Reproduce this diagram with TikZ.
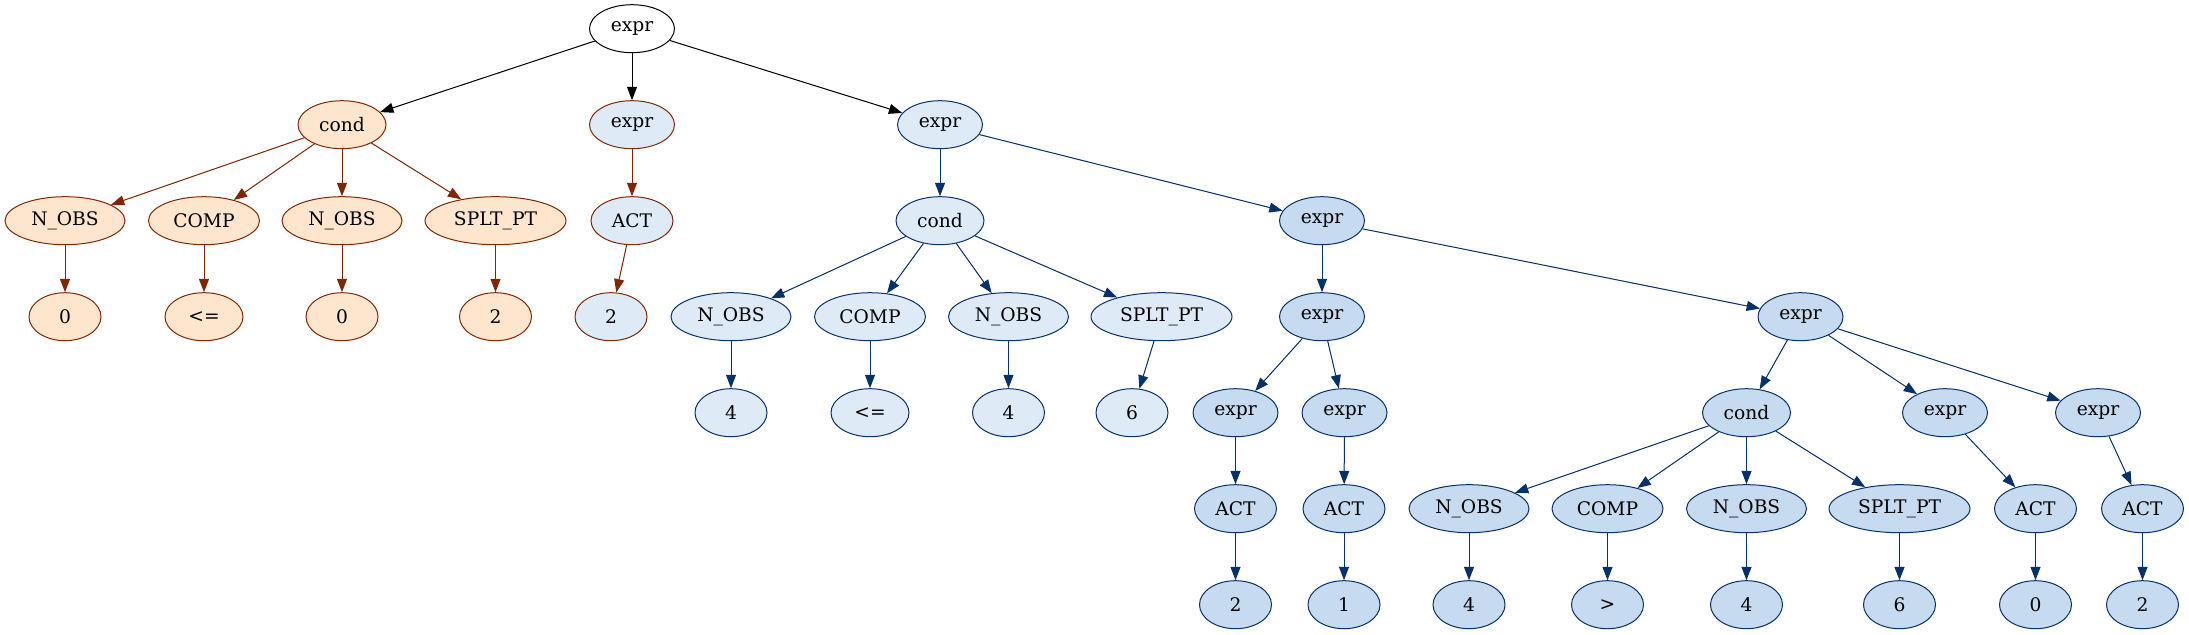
\documentclass[tikz,border=0pt]{standalone}
\usepackage{fontspec}
\setmainfont{DejaVu Serif}
\usetikzlibrary{arrows.meta}
\definecolor{ofill}{HTML}{FEE6CE}
\definecolor{oline}{HTML}{7F2704}
\definecolor{bfillA}{HTML}{DEEBF7}
\definecolor{bfillB}{HTML}{C6DBEF}
\definecolor{bline}{HTML}{08306B}
\tikzset{
  nd/.style={ellipse, inner sep=0pt, minimum height=36pt, line width=0.75pt, font=\fontsize{14pt}{16pt}\selectfont},
  w/.style={minimum width=#1*0.75pt},
  wk/.style={nd, draw=black, fill=white},
  ob/.style={nd, draw=oline, fill=ofill},
  lo/.style={nd, draw=oline, fill=bfillA},
  la/.style={nd, draw=bline, fill=bfillA},
  lm/.style={nd, draw=bline, fill=bfillB},
  ed/.style={line width=0.75pt, -{Triangle[length=10pt,width=7.5pt]}},
  ek/.style={ed, draw=black, fill=black},
  eo/.style={ed, draw=oline, fill=oline},
  eb/.style={ed, draw=bline, fill=bline},
}
\usetikzlibrary{shapes.geometric}
\begin{document}
\begin{tikzpicture}[x=0.75pt, y=-0.75pt]
\useasboundingbox (0,0) rectangle (2189,635);
% row ys: 28.7 124.7 220.7 316.7 412.7 508.7 604.7
\node[wk, w=85] (root) at (632,28.7) {expr};
% row 1
\node[ob, w=88] (c1) at (342,124.7) {cond};
\node[lo, w=85] (e1) at (632,124.7) {expr};
\node[la, w=85] (e2) at (940,124.7) {expr};
% row 2
\node[ob, w=120] (o1) at (65,220.7) {N\_OBS};
\node[ob, w=111] (o2) at (204,220.7) {COMP};
\node[ob, w=120] (o3) at (342,220.7) {N\_OBS};
\node[ob, w=141] (o4) at (495.5,220.7) {SPLT\_PT};
\node[lo, w=82] (a1) at (632,220.7) {ACT};
\node[la, w=88] (c2) at (940,220.7) {cond};
\node[lm, w=85] (e3) at (1322,220.7) {expr};
% row 3
\node[ob, w=72] (o1l) at (65,316.7) {0};
\node[ob, w=78] (o2l) at (204,316.7) {<=};
\node[ob, w=72] (o3l) at (342,316.7) {0};
\node[ob, w=72] (o4l) at (495.5,316.7) {2};
\node[lo, w=72] (a1l) at (611,316.7) {2};
\node[la, w=120] (b1) at (731,316.7) {N\_OBS};
\node[la, w=111] (b2) at (870,316.7) {COMP};
\node[la, w=120] (b3) at (1008.5,316.7) {N\_OBS};
\node[la, w=141] (b4) at (1161.5,316.7) {SPLT\_PT};
\node[lm, w=85] (e4) at (1322,316.7) {expr};
\node[lm, w=85] (e5) at (1800.5,316.7) {expr};
% row 4
\node[la, w=72] (b1l) at (731,412.7) {4};
\node[la, w=78] (b2l) at (870,412.7) {<=};
\node[la, w=72] (b3l) at (1008.5,412.7) {4};
\node[la, w=72] (b4l) at (1132,412.7) {6};
\node[lm, w=85] (e6) at (1235.5,412.7) {expr};
\node[lm, w=85] (e7) at (1344.5,412.7) {expr};
\node[lm, w=88] (c3) at (1746.5,412.7) {cond};
\node[lm, w=85] (e8) at (1945,412.7) {expr};
\node[lm, w=85] (e9) at (2098,412.7) {expr};
% row 5
\node[lm, w=82] (a6) at (1235.5,508.7) {ACT};
\node[lm, w=82] (a7) at (1344,508.7) {ACT};
\node[lm, w=120] (d1) at (1469,508.7) {N\_OBS};
\node[lm, w=111] (d2) at (1607.5,508.7) {COMP};
\node[lm, w=120] (d3) at (1746.5,508.7) {N\_OBS};
\node[lm, w=141] (d4) at (1899.5,508.7) {SPLT\_PT};
\node[lm, w=82] (a8) at (2035.5,508.7) {ACT};
\node[lm, w=82] (a9) at (2142.5,508.7) {ACT};
% row 6
\node[lm, w=72] (a6l) at (1235.5,604.7) {2};
\node[lm, w=72] (a7l) at (1344,604.7) {1};
\node[lm, w=72] (d1l) at (1469,604.7) {4};
\node[lm, w=72] (d2l) at (1607.5,604.7) {>};
\node[lm, w=72] (d3l) at (1746.5,604.7) {4};
\node[lm, w=72] (d4l) at (1899.5,604.7) {6};
\node[lm, w=72] (a8l) at (2035.5,604.7) {0};
\node[lm, w=72] (a9l) at (2142.5,604.7) {2};
% edges
\draw[ek] (root) -- (c1);
\draw[ek] (root) -- (e1);
\draw[ek] (root) -- (e2);
\foreach \a/\b in {c1/o1, c1/o2, c1/o3, c1/o4, o1/o1l, o2/o2l, o3/o3l, o4/o4l, e1/a1, a1/a1l}
  \draw[eo] (\a) -- (\b);
\foreach \a/\b in {e2/c2, e2/e3, c2/b1, c2/b2, c2/b3, c2/b4, b1/b1l, b2/b2l, b3/b3l, b4/b4l,
  e3/e4, e3/e5, e4/e6, e4/e7, e6/a6, e7/a7, a6/a6l, a7/a7l,
  e5/c3, e5/e8, e5/e9, c3/d1, c3/d2, c3/d3, c3/d4, d1/d1l, d2/d2l, d3/d3l, d4/d4l,
  e8/a8, e9/a9, a8/a8l, a9/a9l}
  \draw[eb] (\a) -- (\b);
\end{tikzpicture}
\end{document}
